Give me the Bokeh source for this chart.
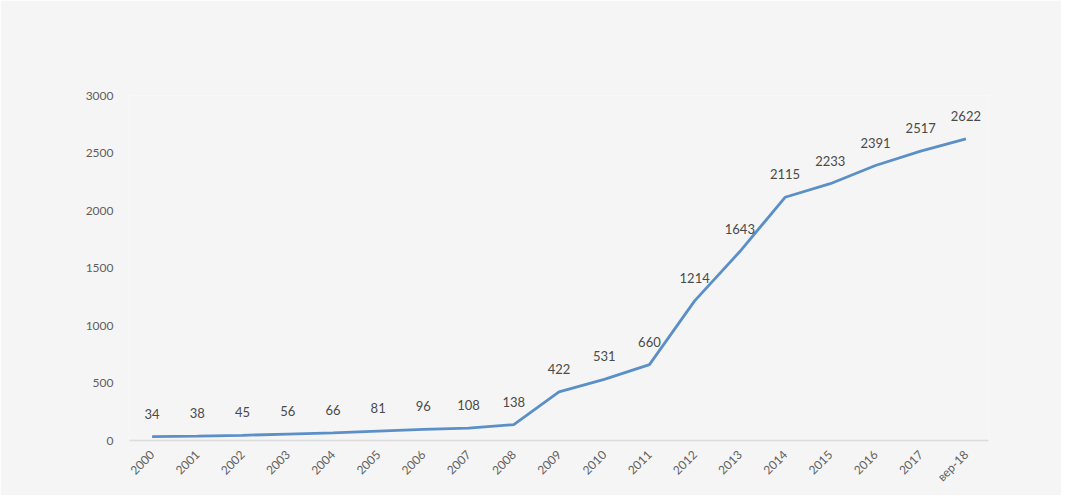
import math
from bokeh.plotting import figure
from bokeh.models import ColumnDataSource, FactorRange, Range1d, FixedTicker
from bokeh.embed import file_html
from bokeh.resources import INLINE
from bokeh.core.properties import value

categories = ["2000", "2001", "2002", "2003", "2004", "2005", "2006", "2007", "2008", "2009",
              "2010", "2011", "2012", "2013", "2014", "2015", "2016", "2017", "вер-18"]
values = [34, 38, 45, 56, 66, 81, 96, 108, 138, 422, 531, 660, 1214, 1643, 2115, 2233, 2391, 2517, 2622]
y_ticks = [0, 500, 1000, 1500, 2000, 2500, 3000]

src = ColumnDataSource(dict(x=categories, y=values, label=[str(v) for v in values]))

p = figure(x_range=FactorRange(*categories, range_padding=0), y_range=Range1d(0, 3000),
           width=1061, height=495, output_backend="svg", toolbar_location=None,
           min_border_left=129, min_border_right=73, min_border_top=95, min_border_bottom=55)
p.frame_width = 859
p.frame_height = 345
p.background_fill_color = "#f5f5f5"
p.border_fill_color = "#f5f5f5"
p.outline_line_color = None
p.xgrid.grid_line_color = None
p.ygrid.grid_line_color = None

p.line("x", "y", source=src, line_color="#5b8fc7", line_width=2.8)
p.text("x", "y", text="label", source=src, text_align="center", text_baseline="middle",
       y_offset=-23, text_font=value("Lato"), text_font_size="13px", text_color="#4a4a4a")

p.yaxis.ticker = FixedTicker(ticks=y_ticks)
p.yaxis.axis_line_color = None
p.yaxis.major_tick_line_color = None
p.yaxis.minor_tick_line_color = None
p.yaxis.major_tick_out = 0
p.yaxis.major_label_standoff = 16
p.yaxis.major_label_text_font = "Lato"
p.yaxis.major_label_text_font_size = "12px"
p.yaxis.major_label_text_color = "#5f5f5f"

p.xaxis.axis_line_color = "#dcdcdc"
p.xaxis.axis_line_width = 1.5
p.xaxis.major_tick_line_color = None
p.xaxis.minor_tick_line_color = None
p.xaxis.major_tick_out = 0
p.xaxis.major_label_standoff = 12
p.xaxis.major_label_orientation = math.pi / 4
p.xaxis.major_label_text_font = "Lato"
p.xaxis.major_label_text_font_size = "12px"
p.xaxis.major_label_text_color = "#5f5f5f"

open("out.html", "w").write(file_html(p, INLINE))
